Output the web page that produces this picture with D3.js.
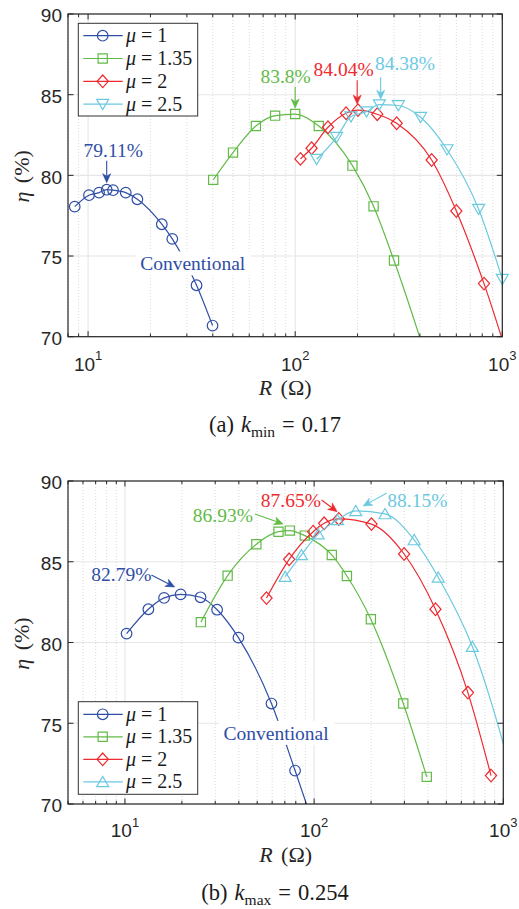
<!DOCTYPE html>
<html><head><meta charset="utf-8">
<script src="https://cdn.jsdelivr.net/npm/d3@7"></script>
<style>body{margin:0;background:#fff}</style>
</head><body>
<svg id="c" width="519" height="909"></svg>
<script>
// ---------- data ----------
const muValues = ["1", "1.35", "2", "2.5"];
const seriesColors = ["#2f4ea6", "#62bb46", "#ee2a2f", "#6bc9df"];
const yTickValues = [70, 75, 80, 85, 90];
const xTickExponents = [1, 2, 3];

// panel (a) k_min = 0.17
const aR_mu1 = [8.62, 10.1, 11.3, 12.3, 13.2, 15.2, 17.3, 22.7, 25.5, 33.4, 39.9];
const aEta_mu1 = [78.06, 78.77, 78.93, 79.11, 79.08, 78.93, 78.52, 76.97, 76.06, 73.19, 70.69];
const aR_mu135 = [40.2, 50.1, 64.6, 80.0, 100, 130, 189, 239, 300, 500];
const aEta_mu135 = [79.72, 81.41, 83.06, 83.70, 83.80, 83.06, 80.60, 78.08, 74.72, 66.0];
const aR_mu2 = [106, 120, 144, 176, 201, 249, 309, 456, 600, 816, 1200];
const aEta_mu2 = [81.02, 81.68, 82.98, 83.85, 84.04, 83.79, 83.23, 80.95, 77.79, 73.29, 66.5];
const aR_mu25 = [127, 158.5, 186, 221, 255, 315, 403, 541, 769, 1000];
const aEta_mu25 = [81.0, 82.36, 83.64, 83.95, 84.38, 84.33, 83.60, 81.6, 77.9, 73.57];
const aPeakLabels = ["79.11%", "83.8%", "84.04%", "84.38%"];

// panel (b) k_max = 0.254
const bR_mu1 = [10.2, 13.3, 16.1, 19.7, 25.1, 30.7, 39.8, 59.5, 79.3, 100];
const bEta_mu1 = [80.55, 82.06, 82.76, 82.98, 82.80, 82.03, 80.30, 76.22, 72.07, 68.6];
const bR_mu135 = [25.2, 34.9, 49.5, 64.8, 74.4, 89.3, 124, 149, 199.5, 296, 394];
const bEta_mu135 = [81.26, 84.14, 86.08, 86.86, 86.93, 86.62, 85.42, 84.12, 81.44, 76.22, 71.68];
const bR_mu2 = [56.0, 73.8, 98.8, 113, 135, 201, 299, 438, 650, 861];
const bEta_mu2 = [82.75, 85.15, 86.86, 87.38, 87.65, 87.33, 85.48, 82.06, 76.90, 71.76];
const bR_mu25 = [70.3, 85.7, 105, 133, 166, 237, 338, 453, 686, 1200];
const bEta_mu25 = [84.08, 85.43, 86.71, 87.6, 88.15, 87.96, 86.35, 84.04, 79.75, 70.4];
const bPeakLabels = ["82.79%", "86.93%", "87.65%", "88.15%"];

const conventionalText = "Conventional";

// ---------- layout ----------
const SERIF = "'Liberation Serif','Times New Roman',serif";
const SANS = "'Liberation Sans',Arial,Helvetica,sans-serif";
const AX = "#262626";

const panels = [
  {
    id: "a", left: 68, right: 502.3, top: 14, bottom: 336.7, xDomain: [8, 1000],
    series: [[aR_mu1, aEta_mu1], [aR_mu135, aEta_mu135], [aR_mu2, aEta_mu2], [aR_mu25, aEta_mu25]],
    markers: ["circle", "square", "diamond", "triDown"],
    peakLabels: aPeakLabels,
    // [tipDx, tipDy, tailDx, tailDy, textDx, textDy]
    ann: [[0, -7, 0, -29, 6.6, -33], [0, -6, 0, -27, -9.5, -31.4], [-0.8, -6, -0.8, -30, -14.4, -34.2], [1.3, -5.4, 1.3, -27.4, 25.6, -34.7]],
    conv: [32, 74.11],
    legendBox: [78.3, 23.3, 119.4, 92.7], legendRow0: 35.7, legendDy: 22.8,
    tickBase: 34, titleBase: 58.5, capBase: 95.3,
    caption: ["(a)", "k", "min", "=", "0.17"]
  },
  {
    id: "b", left: 68, right: 503.3, top: 481, bottom: 804, xDomain: [5, 1000],
    series: [[bR_mu1, bEta_mu1], [bR_mu135, bEta_mu135], [bR_mu2, bEta_mu2], [bR_mu25, bEta_mu25]],
    markers: ["circle", "square", "diamond", "triUp"],
    peakLabels: bPeakLabels,
    ann: [[-6, -7.4, -29.3, -19.4, -59.3, -13.4], [-6.7, -6.6, -35, -16.6, -67, -8.9], [-1.6, -7.3, -17.2, -19, -47.9, -11.7], [7.4, -4.9, 30.8, -17.6, 61.6, -3.6]],
    conv: [63, 73.97],
    legendBox: [78.3, 701.7, 119.4, 92.6], legendRow0: 714.3, legendDy: 22.5,
    tickBase: 33, titleBase: 58, capBase: 96,
    caption: ["(b)", "k", "max", "=", "0.254"]
  }
];

const svg = d3.select("#c");

function markerPath(type) {
  switch (type) {
    case "circle": return d3.arc()({innerRadius: 0, outerRadius: 5.3, startAngle: 0, endAngle: 2 * Math.PI});
    case "square": return "M-4.6,-4.6H4.6V4.6H-4.6Z";
    case "diamond": return "M0,-6.3L5.6,0L0,6.3L-5.6,0Z";
    case "triDown": return "M-6,-4.8L6,-4.8L0,5.4Z";
    case "triUp": return "M-6,4.8L6,4.8L0,-5.4Z";
  }
}

function arrow(g, x1, y1, x2, y2, color) {
  const ang = Math.atan2(y2 - y1, x2 - x1);
  const L = 9, Wd = 4, notch = 6.5;
  const ux = Math.cos(ang), uy = Math.sin(ang);
  const px = -uy, py = ux;
  const bx = x2 - ux * L, by = y2 - uy * L;
  const nx = x2 - ux * notch, ny = y2 - uy * notch;
  g.append("line").attr("x1", x1).attr("y1", y1).attr("x2", nx).attr("y2", ny)
    .attr("stroke", color).attr("stroke-width", 1.1);
  g.append("path")
    .attr("d", `M${x2},${y2}L${bx + px * Wd},${by + py * Wd}L${nx},${ny}L${bx - px * Wd},${by - py * Wd}Z`)
    .attr("fill", color).attr("stroke", color).attr("stroke-width", 0.6);
}

panels.forEach((P) => {
  const g = svg.append("g");
  const x = d3.scaleLog().domain(P.xDomain).range([P.left, P.right]);
  const y = d3.scaleLinear().domain([70, 90]).range([P.bottom, P.top]);

  const clipId = "clip-" + P.id;
  svg.append("clipPath").attr("id", clipId).append("rect")
    .attr("x", P.left).attr("y", P.top).attr("width", P.right - P.left).attr("height", P.bottom - P.top);

  // minor grid (x)
  const minorVals = [];
  for (let e = 0; e <= 3; e++) for (let m = 1; m <= 9; m++) {
    const v = m * Math.pow(10, e);
    if (v >= P.xDomain[0] && v <= P.xDomain[1]) minorVals.push(v);
  }
  const majorVals = xTickExponents.map((e) => Math.pow(10, e));
  g.selectAll(".mgrid").data(minorVals.filter((v) => !majorVals.includes(v))).enter().append("line")
    .attr("x1", (d) => x(d)).attr("x2", (d) => x(d)).attr("y1", P.top).attr("y2", P.bottom)
    .attr("stroke", "#cfcfcf").attr("stroke-width", 0.8).attr("stroke-dasharray", "1,2");
  // major grid
  g.selectAll(".xgrid").data(majorVals).enter().append("line")
    .attr("x1", (d) => x(d)).attr("x2", (d) => x(d)).attr("y1", P.top).attr("y2", P.bottom)
    .attr("stroke", "#e6e6e6").attr("stroke-width", 1.1);
  g.selectAll(".ygrid").data(yTickValues).enter().append("line")
    .attr("x1", P.left).attr("x2", P.right).attr("y1", (d) => y(d)).attr("y2", (d) => y(d))
    .attr("stroke", "#e6e6e6").attr("stroke-width", 1.1);

  // series
  const line = d3.line().x((d) => x(d[0])).y((d) => y(d[1])).curve(d3.curveMonotoneX);
  P.series.forEach((s, i) => {
    const pts = s[0].map((r, k) => [r, s[1][k]]);
    g.append("path").attr("d", line(pts)).attr("fill", "none")
      .attr("stroke", seriesColors[i]).attr("stroke-width", 1.2)
      .attr("clip-path", `url(#${clipId})`);
    const vis = pts.filter((d) => d[0] >= P.xDomain[0] && d[0] <= P.xDomain[1] && d[1] >= 70 && d[1] <= 90);
    g.selectAll(null).data(vis).enter().append("path")
      .attr("d", markerPath(P.markers[i]))
      .attr("transform", (d) => `translate(${x(d[0])},${y(d[1])})`)
      .attr("fill", "none").attr("stroke", seriesColors[i]).attr("stroke-width", 1.2);
  });

  // axes box
  g.append("rect").attr("x", P.left).attr("y", P.top).attr("width", P.right - P.left).attr("height", P.bottom - P.top)
    .attr("fill", "none").attr("stroke", AX).attr("stroke-width", 1.2);
  // x ticks
  minorVals.forEach((v) => {
    const len = majorVals.includes(v) ? 5.5 : 3.2;
    g.append("line").attr("x1", x(v)).attr("x2", x(v)).attr("y1", P.bottom).attr("y2", P.bottom - len).attr("stroke", AX).attr("stroke-width", 1);
    g.append("line").attr("x1", x(v)).attr("x2", x(v)).attr("y1", P.top).attr("y2", P.top + len).attr("stroke", AX).attr("stroke-width", 1);
  });
  yTickValues.forEach((v) => {
    g.append("line").attr("x1", P.left).attr("x2", P.left + 5.5).attr("y1", y(v)).attr("y2", y(v)).attr("stroke", AX).attr("stroke-width", 1);
    g.append("line").attr("x1", P.right).attr("x2", P.right - 5.5).attr("y1", y(v)).attr("y2", y(v)).attr("stroke", AX).attr("stroke-width", 1);
    g.append("text").attr("x", P.left - 6).attr("y", y(v) + 8.3).attr("text-anchor", "end")
      .attr("font-family", SANS).attr("font-size", 19).attr("fill", AX).text(v);
  });
  xTickExponents.forEach((e) => {
    const t = g.append("text").attr("x", x(Math.pow(10, e))).attr("y", P.bottom + P.tickBase)
      .attr("text-anchor", "middle").attr("font-family", SANS).attr("font-size", 19).attr("fill", AX);
    t.append("tspan").text("10");
    t.append("tspan").attr("dy", -10.5).attr("font-size", 13).text(e);
  });

  // axis titles
  const xt = g.append("text").attr("x", (P.left + P.right) / 2).attr("y", P.bottom + P.titleBase)
    .attr("text-anchor", "middle").attr("font-family", SERIF).attr("font-size", 22).attr("fill", AX);
  xt.append("tspan").attr("font-style", "italic").text("R");
  xt.append("tspan").attr("dx", 3).text(" (Ω)");
  const cy = (P.top + P.bottom) / 2 + 1;
  const yt = g.append("text").attr("transform", `translate(29,${cy}) rotate(-90)`)
    .attr("text-anchor", "middle").attr("font-family", SERIF).attr("font-size", 22).attr("fill", AX);
  yt.append("tspan").attr("font-style", "italic").text("η");
  yt.append("tspan").attr("dx", 3).text(" (%)");

  // caption
  const cap = g.append("text").attr("x", 275).attr("y", P.bottom + P.capBase)
    .attr("text-anchor", "middle").attr("font-family", SERIF).attr("font-size", 22.5).attr("fill", "#1a1a1a");
  cap.append("tspan").text(P.caption[0]);
  cap.append("tspan").attr("dx", 7).attr("font-style", "italic").text(P.caption[1]);
  cap.append("tspan").attr("dy", 5).attr("font-size", 15.5).text(P.caption[2]);
  cap.append("tspan").attr("dy", -5).attr("dx", 7).text(P.caption[3]);
  cap.append("tspan").attr("dx", 7).text(P.caption[4]);

  // peak annotations
  P.series.forEach((s, i) => {
    const vis = s[0].map((r, k) => [r, s[1][k]]).filter((d) => d[0] <= P.xDomain[1] && d[1] >= 70);
    const pk = vis[d3.maxIndex(vis, (d) => d[1])];
    const px = x(pk[0]), py = y(pk[1]);
    const a = P.ann[i];
    arrow(g, px + a[2], py + a[3], px + a[0], py + a[1], seriesColors[i]);
    g.append("text").attr("x", px + a[4]).attr("y", py + a[5]).attr("text-anchor", "middle")
      .attr("font-family", SERIF).attr("font-size", 19.5).attr("fill", seriesColors[i]).text(P.peakLabels[i]);
  });

  // Conventional label with white box
  const cg = g.append("g");
  const ct = cg.append("text").attr("x", x(P.conv[0])).attr("y", y(P.conv[1])).attr("text-anchor", "middle")
    .attr("font-family", SERIF).attr("font-size", 19.5).attr("fill", seriesColors[0]).text(conventionalText);
  const bb = ct.node().getBBox();
  cg.insert("rect", "text").attr("x", bb.x - 5).attr("y", bb.y - 2).attr("width", bb.width + 10).attr("height", bb.height + 3)
    .attr("fill", "#fff");

  // legend
  const lb = P.legendBox;
  const lg = g.append("g");
  lg.append("rect").attr("x", lb[0]).attr("y", lb[1]).attr("width", lb[2]).attr("height", lb[3])
    .attr("fill", "#fff").attr("stroke", "#333").attr("stroke-width", 1);
  muValues.forEach((mu, i) => {
    const ry = P.legendRow0 + i * P.legendDy;
    lg.append("line").attr("x1", 83.3).attr("x2", 122.7).attr("y1", ry).attr("y2", ry)
      .attr("stroke", seriesColors[i]).attr("stroke-width", 1.2);
    lg.append("path").attr("d", markerPath(P.markers[i])).attr("transform", `translate(102.7,${ry})`)
      .attr("fill", "none").attr("stroke", seriesColors[i]).attr("stroke-width", 1.2);
    const t = lg.append("text").attr("x", 126).attr("y", ry + 6.5)
      .attr("font-family", SERIF).attr("font-size", 20).attr("fill", "#1a1a1a");
    t.append("tspan").attr("font-style", "italic").text("μ");
    t.append("tspan").text(" = " + mu);
  });
});
</script>
</body></html>
